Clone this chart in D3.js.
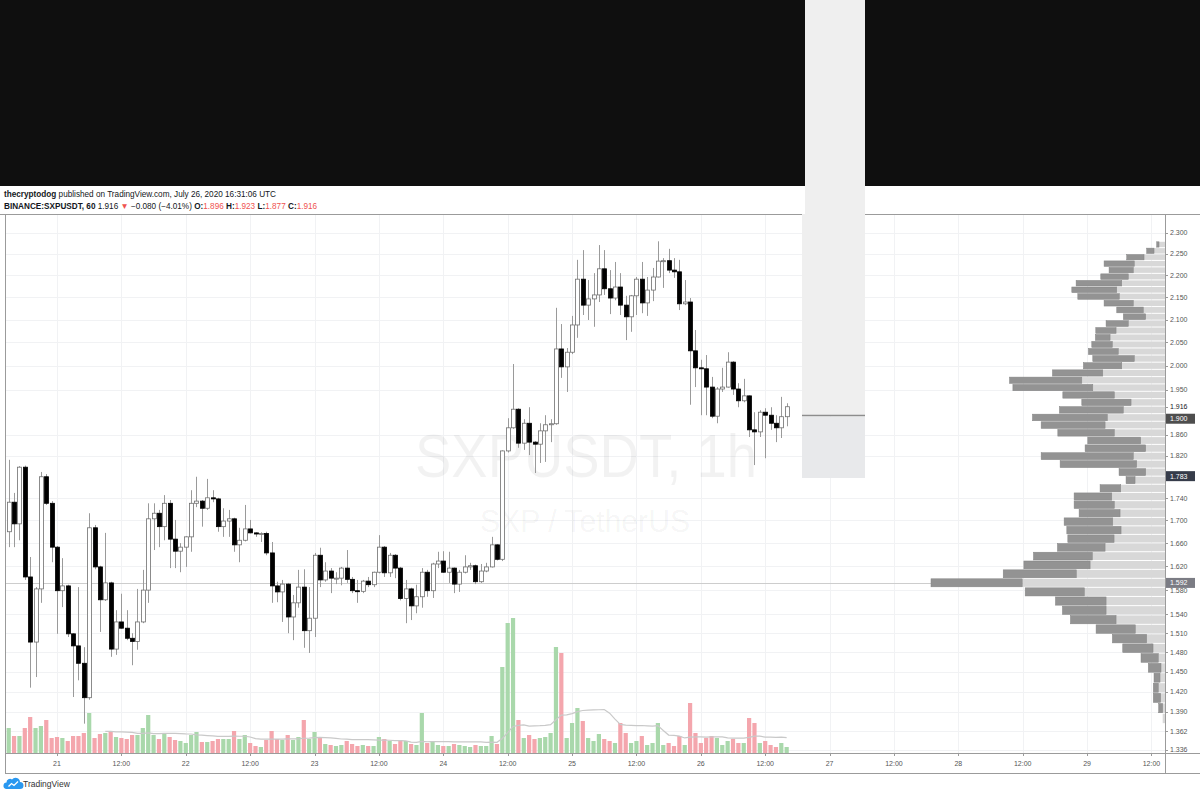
<!DOCTYPE html>
<html>
<head>
<meta charset="utf-8">
<script src="https://cdn.jsdelivr.net/npm/d3@7"></script>
<style>
    body { margin: 0; background: #fff; }
    svg { display: block; }
</style>
</head>
<body>
<div id="chart"></div>
<script>
// ---- data: SXPUSDT 1h candles, July 20 14:00 UTC -> July 26 16:00 UTC ----
const firstCandle = Date.UTC(2020, 6, 20, 14);

const opens = [
    1.665, 1.680, 1.733, 1.694, 1.798, 1.602, 1.496, 1.582, 1.780, 1.731, 1.653, 1.579, 1.587, 1.509, 1.490, 1.463,
    1.411, 1.687, 1.619, 1.564, 1.592, 1.485, 1.528, 1.518, 1.502, 1.497, 1.528, 1.580, 1.703, 1.713, 1.689, 1.731,
    1.667, 1.646, 1.653, 1.671, 1.731, 1.735, 1.722, 1.741, 1.739, 1.689, 1.699, 1.703, 1.657, 1.665, 1.685, 1.678,
    1.676, 1.677, 1.643, 1.587, 1.577, 1.590, 1.536, 1.559, 1.585, 1.514, 1.534, 1.639, 1.597, 1.612, 1.600, 1.600,
    1.617, 1.598, 1.579, 1.578, 1.595, 1.589, 1.610, 1.653, 1.609, 1.639, 1.617, 1.566, 1.582, 1.554, 1.569, 1.610,
    1.579, 1.624, 1.629, 1.610, 1.617, 1.590, 1.610, 1.619, 1.621, 1.594, 1.612, 1.619, 1.657, 1.632, 1.829, 1.874,
    1.911, 1.844, 1.883, 1.846, 1.842, 1.868, 1.880, 1.882, 2.036, 1.998, 2.029, 2.088, 2.191, 2.132, 2.146, 2.155,
    2.215, 2.169, 2.148, 2.173, 2.132, 2.106, 2.153, 2.191, 2.137, 2.166, 2.196, 2.233, 2.234, 2.212, 2.208, 2.135,
    2.139, 2.032, 1.996, 1.994, 1.956, 1.897, 1.952, 1.956, 2.008, 1.952, 1.928, 1.938, 1.870, 1.866, 1.905, 1.899,
    1.883, 1.874, 1.896
];
const highs = [
    1.719, 1.812, 1.750, 1.800, 1.801, 1.636, 1.585, 1.789, 1.785, 1.735, 1.655, 1.634, 1.589, 1.510, 1.585, 1.488,
    1.713, 1.692, 1.621, 1.678, 1.594, 1.547, 1.574, 1.547, 1.510, 1.582, 1.614, 1.731, 1.731, 1.719, 1.746, 1.737,
    1.701, 1.660, 1.672, 1.755, 1.780, 1.737, 1.776, 1.755, 1.741, 1.722, 1.719, 1.705, 1.687, 1.728, 1.701, 1.679,
    1.679, 1.680, 1.662, 1.594, 1.597, 1.592, 1.572, 1.614, 1.615, 1.585, 1.643, 1.652, 1.627, 1.617, 1.610, 1.619,
    1.648, 1.602, 1.597, 1.597, 1.602, 1.611, 1.674, 1.655, 1.643, 1.641, 1.619, 1.597, 1.584, 1.589, 1.617, 1.614,
    1.626, 1.645, 1.646, 1.645, 1.618, 1.614, 1.639, 1.626, 1.623, 1.624, 1.626, 1.671, 1.658, 1.830, 1.893, 2.004,
    1.913, 1.891, 1.915, 1.848, 1.883, 1.899, 1.891, 2.126, 2.090, 2.038, 2.108, 2.236, 2.259, 2.189, 2.205, 2.271,
    2.259, 2.212, 2.231, 2.205, 2.153, 2.155, 2.196, 2.231, 2.196, 2.217, 2.280, 2.240, 2.262, 2.240, 2.236, 2.189,
    2.148, 2.077, 2.013, 2.023, 1.977, 1.956, 1.996, 2.029, 2.010, 1.964, 1.973, 1.939, 1.905, 1.909, 1.913, 1.915,
    1.899, 1.936, 1.923
];
const lows = [
    1.655, 1.653, 1.653, 1.665, 1.597, 1.426, 1.442, 1.559, 1.728, 1.627, 1.509, 1.552, 1.504, 1.412, 1.437, 1.373,
    1.408, 1.615, 1.512, 1.562, 1.473, 1.476, 1.517, 1.499, 1.460, 1.484, 1.526, 1.559, 1.648, 1.653, 1.665, 1.617,
    1.617, 1.610, 1.619, 1.645, 1.724, 1.689, 1.719, 1.733, 1.680, 1.671, 1.671, 1.645, 1.627, 1.663, 1.677, 1.671,
    1.662, 1.639, 1.559, 1.560, 1.528, 1.510, 1.499, 1.551, 1.487, 1.479, 1.504, 1.585, 1.594, 1.575, 1.590, 1.588,
    1.592, 1.575, 1.559, 1.575, 1.585, 1.585, 1.608, 1.602, 1.602, 1.600, 1.563, 1.526, 1.531, 1.542, 1.551, 1.569,
    1.567, 1.617, 1.609, 1.592, 1.575, 1.577, 1.608, 1.614, 1.590, 1.592, 1.610, 1.618, 1.630, 1.629, 1.826, 1.872,
    1.835, 1.831, 1.821, 1.787, 1.806, 1.808, 1.846, 1.880, 1.975, 1.946, 2.025, 2.060, 2.110, 2.099, 2.084, 2.139,
    2.155, 2.112, 2.143, 2.110, 2.055, 2.073, 2.110, 2.114, 2.108, 2.141, 2.195, 2.171, 2.205, 2.194, 2.121, 2.132,
    1.920, 1.956, 1.899, 1.899, 1.893, 1.883, 1.946, 1.955, 1.940, 1.915, 1.925, 1.856, 1.802, 1.856, 1.815, 1.870,
    1.846, 1.854, 1.877
];
const closes = [
    1.680, 1.733, 1.694, 1.798, 1.602, 1.496, 1.582, 1.780, 1.731, 1.653, 1.579, 1.587, 1.509, 1.490, 1.463, 1.411,
    1.687, 1.619, 1.564, 1.592, 1.485, 1.528, 1.518, 1.502, 1.497, 1.528, 1.580, 1.703, 1.713, 1.689, 1.731, 1.667,
    1.646, 1.653, 1.671, 1.731, 1.735, 1.722, 1.741, 1.739, 1.689, 1.699, 1.703, 1.657, 1.665, 1.685, 1.678, 1.676,
    1.677, 1.643, 1.587, 1.577, 1.590, 1.536, 1.559, 1.585, 1.514, 1.534, 1.639, 1.597, 1.612, 1.600, 1.600, 1.617,
    1.598, 1.579, 1.578, 1.595, 1.589, 1.610, 1.653, 1.609, 1.639, 1.617, 1.566, 1.582, 1.554, 1.569, 1.610, 1.579,
    1.624, 1.629, 1.610, 1.617, 1.590, 1.610, 1.619, 1.621, 1.594, 1.612, 1.619, 1.657, 1.632, 1.829, 1.874, 1.911,
    1.844, 1.883, 1.846, 1.842, 1.868, 1.880, 1.882, 2.036, 1.998, 2.029, 2.088, 2.191, 2.132, 2.146, 2.155, 2.215,
    2.169, 2.148, 2.173, 2.132, 2.106, 2.153, 2.191, 2.137, 2.166, 2.196, 2.233, 2.234, 2.212, 2.208, 2.135, 2.139,
    2.032, 1.996, 1.994, 1.956, 1.897, 1.952, 1.956, 2.008, 1.952, 1.928, 1.938, 1.870, 1.866, 1.905, 1.899, 1.883,
    1.874, 1.896, 1.916
];
// volume in thousands of SXP
const volumes = [
    200, 250, 170, 170, 250, 360, 250, 270, 330, 150, 160, 150, 120, 170, 170, 200,
    400, 150, 190, 200, 210, 160, 150, 140, 180, 180, 250, 380, 180, 140, 200, 160,
    130, 120, 100, 180, 210, 110, 110, 120, 140, 140, 140, 220, 140, 180, 100, 70,
    60, 130, 220, 140, 130, 180, 130, 160, 330, 140, 210, 160, 90, 80, 70, 80,
    120, 90, 70, 80, 70, 70, 160, 140, 120, 90, 130, 120, 90, 80, 400, 100,
    120, 80, 70, 70, 90, 80, 70, 60, 80, 70, 70, 170, 90, 860, 1300, 1350,
    330, 150, 180, 140, 150, 160, 200, 1060, 1000, 150, 300, 450, 320, 150, 120, 190,
    140, 120, 100, 300, 200, 100, 120, 170, 80, 100, 300, 80, 100, 70, 170, 80,
    500, 200, 100, 150, 170, 150, 80, 120, 140, 100, 100, 350, 300, 100, 120, 80,
    60, 100, 60
];

// visible range volume profile, 60 equal price rows from top to bottom
const profileHigh = 2.280;
const profileLow = 1.373;
const profileLight = [
    60, 110, 210, 307, 317, 367, 433, 483, 457, 317, 217, 193, 367, 490, 550, 527,
    467, 307, 433, 623, 833, 723, 507, 340, 417, 577, 600, 507, 243, 193, 317, 283,
    193, 300, 443, 533, 507, 450, 523, 440, 510, 600, 727, 750, 887, 1430, 807, 590,
    590, 490, 297, 183, 120, 67, 40, 50, 67, 43, 23, 23
];
const profileDark = [
    23, 73, 173, 303, 243, 276, 457, 450, 416, 293, 266, 224, 223, 203, 147, 206,
    300, 416, 384, 504, 724, 800, 516, 493, 640, 750, 640, 566, 530, 607, 923, 767,
    267, 90, 207, 377, 403, 410, 487, 543, 463, 477, 590, 663, 733, 913, 593, 507,
    437, 457, 393, 344, 303, 173, 127, 60, 50, 74, 40, 0
];

const priceTicks = [2.300, 2.250, 2.200, 2.150, 2.100, 2.050, 2.000, 1.950, 1.860, 1.820, 1.740, 1.700,
    1.660, 1.620, 1.580, 1.540, 1.510, 1.480, 1.450, 1.420, 1.390, 1.362, 1.336];
const lastPrice = 1.916;
const lineLevel = 1.900;
const markLevel = 1.783;
const pocLevel = 1.592;

const headerUser = 'thecryptodog';
const headerRest = ' published on TradingView.com, July 26, 2020 16:31:06 UTC';
const symbolText = 'BINANCE:SXPUSDT, 60';
const changeText = ' \u22120.080 (\u22124.01%) ';

// ---- layout ----
const W = 1200, H = 793;
const pane = { left: 5, right: 1165, top: 214, bottom: 753 };
const red = '#ef5350';
const fmt = d3.format('.3f');

const svg = d3.select('#chart').append('svg')
    .attr('width', W)
    .attr('height', H)
    .style('font-family', '"Liberation Sans", Arial, sans-serif');

svg.append('rect').attr('width', W).attr('height', H).attr('fill', '#fff');
svg.append('rect').attr('width', W).attr('height', 186).attr('fill', '#0f0f0f');

// Scales
const x = d3.scaleUtc()
    .domain([Date.UTC(2020, 6, 20, 14, 18, 30), Date.UTC(2020, 6, 29, 14, 31)])
    .range([pane.left, pane.right]);
const y = d3.scaleLog()
    .domain([1.3313, 2.3464])
    .range([pane.bottom, pane.top]);
const vy = d3.scaleLinear()
    .domain([0, d3.max(volumes)])
    .range([pane.bottom, 618]);

const candles = opens.map((o, i) => ({
    t: new Date(firstCandle + i * 3600e3),
    o: o, h: highs[i], l: lows[i], c: closes[i], v: volumes[i]
}));

svg.append('clipPath').attr('id', 'pane')
    .append('rect')
    .attr('x', pane.left).attr('y', pane.top)
    .attr('width', pane.right - pane.left).attr('height', pane.bottom - pane.top);

const g = svg.append('g').attr('clip-path', 'url(#pane)');

// Grid
const timeTicks = d3.utcHour.every(12).range(new Date(Date.UTC(2020, 6, 21)), new Date(Date.UTC(2020, 6, 29, 13)));
g.selectAll('.vgrid').data(timeTicks).enter().append('line')
    .attr('x1', d => Math.round(x(d)) + 0.5).attr('x2', d => Math.round(x(d)) + 0.5)
    .attr('y1', pane.top).attr('y2', pane.bottom)
    .attr('stroke', '#f1f2f4');
g.selectAll('.hgrid').data(priceTicks).enter().append('line')
    .attr('x1', pane.left).attr('x2', pane.right)
    .attr('y1', d => Math.round(y(d)) + 0.5).attr('y2', d => Math.round(y(d)) + 0.5)
    .attr('stroke', '#f1f2f4');

// Watermark
g.append('text')
    .attr('x', 586).attr('y', 477)
    .attr('text-anchor', 'middle')
    .attr('font-size', 62)
    .attr('textLength', 342).attr('lengthAdjust', 'spacingAndGlyphs')
    .attr('fill', 'rgba(0,0,0,0.05)')
    .text('SXPUSDT, 1h');
g.append('text')
    .attr('x', 585).attr('y', 532)
    .attr('text-anchor', 'middle')
    .attr('font-size', 32)
    .attr('textLength', 210).attr('lengthAdjust', 'spacingAndGlyphs')
    .attr('fill', 'rgba(0,0,0,0.05)')
    .text('SXP / TetherUS');

// POC line
g.append('line')
    .attr('x1', pane.left).attr('x2', pane.right)
    .attr('y1', Math.round(y(pocLevel)) + 0.5).attr('y2', Math.round(y(pocLevel)) + 0.5)
    .attr('stroke', '#cdcdcd');

// Volume bars
g.selectAll('.vol').data(candles).enter().append('rect')
    .attr('x', d => x(d.t) - 2.1)
    .attr('y', d => vy(d.v))
    .attr('width', 4.2)
    .attr('height', d => pane.bottom - vy(d.v))
    .attr('fill', d => d.c >= d.o ? '#a9d8ab' : '#f4a6ad');

// Volume moving average (20)
const ma = candles.map((d, i) => i < 19 ? null : { t: d.t, v: d3.mean(volumes.slice(i - 19, i + 1)) })
    .filter(d => d);
g.append('path')
    .datum(ma)
    .attr('fill', 'none')
    .attr('stroke', '#c9c9c9')
    .attr('stroke-width', 1.2)
    .attr('d', d3.line().x(d => x(d.t)).y(d => vy(d.v)));

// Candles
const cg = g.selectAll('.candle').data(candles).enter().append('g');
cg.append('line')
    .attr('x1', d => Math.round(x(d.t)) + 0.5).attr('x2', d => Math.round(x(d.t)) + 0.5)
    .attr('y1', d => y(d.h)).attr('y2', d => y(d.l))
    .attr('stroke', '#9a9a9a');
cg.append('rect')
    .attr('x', d => Math.round(x(d.t)) - 1.5)
    .attr('y', d => y(Math.max(d.o, d.c)))
    .attr('width', 4)
    .attr('height', d => Math.max(1, y(Math.min(d.o, d.c)) - y(Math.max(d.o, d.c))))
    .attr('fill', d => d.c >= d.o ? '#fff' : '#000')
    .attr('stroke', d => d.c >= d.o ? '#6f6f6f' : '#000')
    .attr('stroke-width', 0.8);

// Volume profile (visible range)
const rows = profileLight.length;
const rowStep = (profileHigh - profileLow) / rows;
const totals = profileLight.map((v, i) => v + profileDark[i]);
const px = d3.scaleLinear().domain([0, d3.max(totals)]).range([0, 234]);
const profile = profileLight.map((v, i) => ({
    top: profileHigh - i * rowStep,
    bottom: profileHigh - (i + 1) * rowStep,
    light: v,
    dark: profileDark[i]
}));
const pg = g.selectAll('.row').data(profile).enter().append('g');
pg.append('rect')
    .attr('x', d => pane.right - px(d.light))
    .attr('y', d => y(d.top) + 0.5)
    .attr('width', d => px(d.light))
    .attr('height', d => y(d.bottom) - y(d.top) - 1)
    .attr('fill', '#d8d8d8');
pg.append('rect')
    .attr('x', d => pane.right - px(d.light + d.dark))
    .attr('y', d => y(d.top) + 0.5)
    .attr('width', d => px(d.dark))
    .attr('height', d => y(d.bottom) - y(d.top) - 1)
    .attr('fill', '#939393')
    .attr('stroke', '#838383')
    .attr('stroke-width', 0.5);

// Frame and axes
const frame = svg.append('g').attr('stroke', '#9b9b9b').attr('fill', 'none');
frame.append('line').attr('x1', 0).attr('x2', W).attr('y1', pane.top + 0.5).attr('y2', pane.top + 0.5);
frame.append('line').attr('x1', pane.left + 0.5).attr('x2', pane.left + 0.5).attr('y1', pane.top).attr('y2', 773);
frame.append('line').attr('x1', pane.right + 0.5).attr('x2', pane.right + 0.5).attr('y1', pane.top).attr('y2', 773);
frame.append('line').attr('x1', pane.left).attr('x2', W).attr('y1', pane.bottom + 0.5).attr('y2', pane.bottom + 0.5);
frame.append('line').attr('x1', pane.left).attr('x2', W).attr('y1', 773.5).attr('y2', 773.5);

// Time axis
const tAxis = svg.append('g').attr('font-size', 7).attr('fill', '#555');
tAxis.selectAll('line').data(timeTicks).enter().append('line')
    .attr('x1', d => Math.round(x(d)) + 0.5).attr('x2', d => Math.round(x(d)) + 0.5)
    .attr('y1', pane.bottom).attr('y2', pane.bottom + 3)
    .attr('stroke', '#9b9b9b');
tAxis.selectAll('text').data(timeTicks).enter().append('text')
    .attr('x', d => x(d))
    .attr('y', 766)
    .attr('text-anchor', 'middle')
    .text(d => d.getUTCHours() === 0 ? d3.utcFormat('%-d')(d) : '12:00');

// Price axis
svg.append('clipPath').attr('id', 'paxis')
    .append('rect').attr('x', pane.right).attr('y', pane.top).attr('width', W - pane.right).attr('height', pane.bottom - pane.top);
const pAxis = svg.append('g').attr('clip-path', 'url(#paxis)').attr('font-size', 7);
pAxis.selectAll('line').data(priceTicks.concat([lastPrice])).enter().append('line')
    .attr('x1', pane.right).attr('x2', pane.right + 3)
    .attr('y1', d => Math.round(y(d)) + 0.5).attr('y2', d => Math.round(y(d)) + 0.5)
    .attr('stroke', '#9b9b9b');
pAxis.selectAll('.plabel').data(priceTicks).enter().append('text')
    .attr('x', pane.right + 5)
    .attr('y', d => y(d))
    .attr('dy', '0.35em')
    .attr('fill', '#555')
    .text(d => fmt(d));
pAxis.append('text')
    .attr('x', pane.right + 5).attr('y', y(lastPrice)).attr('dy', '0.35em')
    .attr('fill', '#131722')
    .text(fmt(lastPrice));

// Boxed price labels
const boxes = [
    { p: lineLevel, yy: Math.max(y(lineLevel), y(lastPrice) + 12), fill: '#4e4e4e' },
    { p: markLevel, yy: y(markLevel) + 1, fill: '#363c4a' },
    { p: pocLevel, yy: y(pocLevel), fill: '#7b7c84' }
];
boxes.forEach(b => {
    pAxis.append('rect')
        .attr('x', pane.right + 1).attr('y', b.yy - 5)
        .attr('width', 29).attr('height', 10)
        .attr('fill', b.fill);
    pAxis.append('text')
        .attr('x', pane.right + 5).attr('y', b.yy).attr('dy', '0.35em')
        .attr('fill', '#fff')
        .text(fmt(b.p));
});

// Header
const last = candles[candles.length - 1];
const h1 = svg.append('text').attr('x', 4).attr('y', 197).attr('font-size', 8.2).attr('fill', '#131722');
h1.append('tspan').attr('font-weight', 'bold').text(headerUser);
h1.append('tspan').text(headerRest);
const h2 = svg.append('text').attr('x', 4).attr('y', 209).attr('font-size', 8.2).attr('fill', '#131722');
h2.append('tspan').attr('font-weight', 'bold').text(symbolText);
h2.append('tspan').text(' ' + fmt(last.c) + ' ');
h2.append('tspan').attr('fill', red).text('\u25BC');
h2.append('tspan').text(changeText);
[['O:', last.o], [' H:', last.h], [' L:', last.l], [' C:', last.c]].forEach(([k, v]) => {
    h2.append('tspan').attr('font-weight', 'bold').text(k);
    h2.append('tspan').attr('fill', red).text(fmt(v));
});

// Grey overlay block (from the original screenshot)
const block = svg.append('g');
block.append('rect').attr('x', 805).attr('y', 0).attr('width', 60).attr('height', 215).attr('fill', '#efefef');
block.append('rect').attr('x', 802).attr('y', 214).attr('width', 63).attr('height', 201).attr('fill', '#efefef');
block.append('rect').attr('x', 802).attr('y', 416.5).attr('width', 63).attr('height', 61.5).attr('fill', '#e8e9eb');
block.append('line')
    .attr('x1', 802).attr('x2', 865)
    .attr('y1', Math.round(y(lineLevel)) + 0.5).attr('y2', Math.round(y(lineLevel)) + 0.5)
    .attr('stroke', '#8d8d8d').attr('stroke-width', 1.5);

// TradingView logo
const logo = svg.append('g');
logo.append('path')
    .attr('d', 'M6,789 H20 A3.5,3.5 0 0 0 20,782 A4.5,4.5 0 0 0 12,779.5 A3.5,3.5 0 0 0 6.5,782.5 A3.3,3.3 0 0 0 6,789 Z')
    .attr('fill', '#2a98f0');
logo.append('polyline')
    .attr('points', '8.5,786.5 11.5,783.5 14,785.5 18,781.5')
    .attr('fill', 'none').attr('stroke', '#fff').attr('stroke-width', 1.3);
svg.append('text').attr('x', 23).attr('y', 787).attr('font-size', 8.5).attr('fill', '#333').text('TradingView');
</script>
</body>
</html>
